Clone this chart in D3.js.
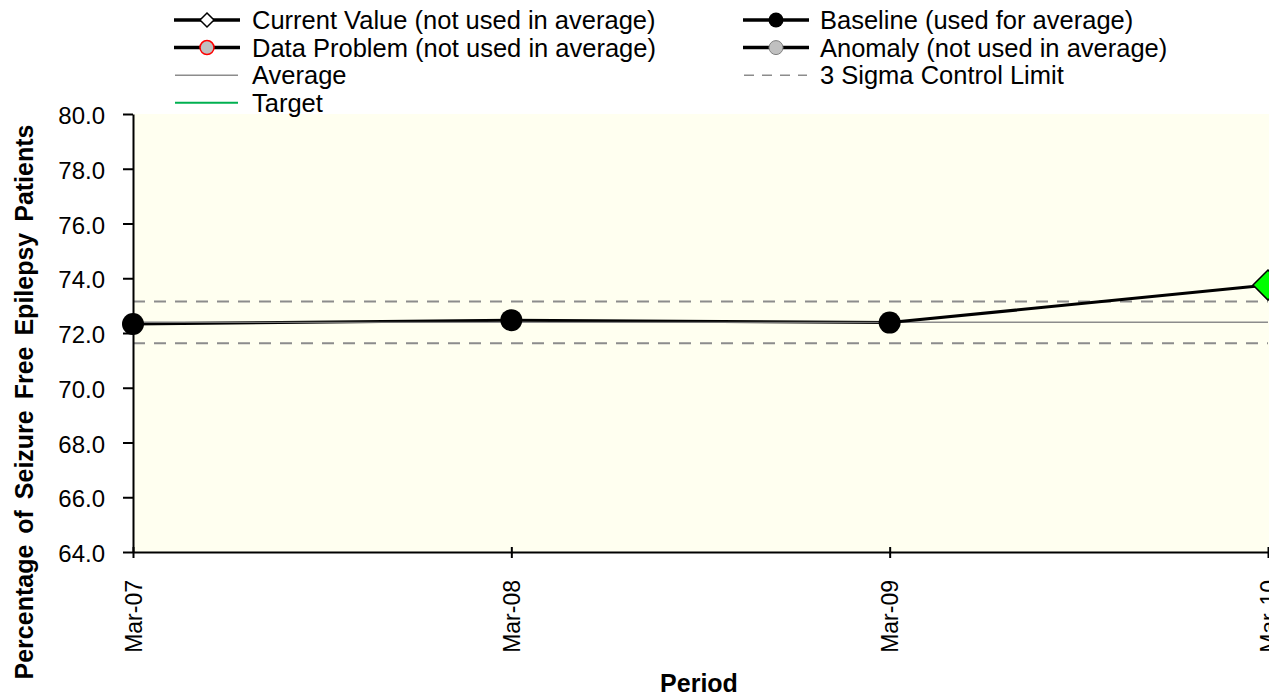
<!DOCTYPE html>
<html><head><meta charset="utf-8">
<script src="https://cdn.jsdelivr.net/npm/d3@7"></script>
<style>body{margin:0;background:#fff}svg{display:block;font-family:Arial,"Liberation Sans",sans-serif}</style>
</head><body><svg id="c" width="1269" height="696"></svg>
<script>
const periods = ["Mar-07","Mar-08","Mar-09","Mar-10"];
const values = [72.33, 72.47, 72.38, 73.75];
const status = ["baseline","baseline","baseline","current"];
const average = 72.39;
const upperLimit = 73.15;
const lowerLimit = 71.63;
const yTicks = [64,66,68,70,72,74,76,78,80];
const legendItems = [
  {label:"Current Value (not used in average)", kind:"current"},
  {label:"Baseline (used for average)", kind:"baseline"},
  {label:"Data Problem (not used in average)", kind:"problem"},
  {label:"Anomaly (not used in average)", kind:"anomaly"},
  {label:"Average", kind:"average"},
  {label:"3 Sigma Control Limit", kind:"sigma"},
  {label:"Target", kind:"target"}
];

const svg = d3.select("#c");
const L = 133, R = 1268, T = 114, B = 552;
const x = d3.scalePoint().domain(periods).range([L, R]);
const y = d3.scaleLinear().domain([64, 80]).range([B, T]);

svg.append("rect").attr("x", L).attr("y", T).attr("width", 1269 - L).attr("height", B - T).attr("fill", "#FFFFF0");

// limits & average
const g = svg.append("g");
g.append("line").attr("x1", L).attr("x2", R).attr("y1", y(average)).attr("y2", y(average))
  .attr("stroke", "#8c8c8c").attr("stroke-width", 1.5);
[upperLimit, lowerLimit].forEach(v => {
  g.append("line").attr("x1", L).attr("x2", R).attr("y1", y(v)).attr("y2", y(v))
    .attr("stroke", "#8c8c8c").attr("stroke-width", 2).attr("stroke-dasharray", "12,9");
});

// data line
const line = d3.line().x((d, i) => x(periods[i])).y(d => y(d));
g.append("path").datum(values).attr("d", line).attr("fill", "none").attr("stroke", "#000").attr("stroke-width", 3);
g.append("line").attr("x1", L).attr("x2", x(periods[2])).attr("y1", y(average)).attr("y2", y(average))
  .attr("stroke", "#8c8c8c").attr("stroke-width", 1);

// markers
values.forEach((v, i) => {
  const cx = x(periods[i]), cy = y(v);
  if (status[i] === "baseline") {
    g.append("circle").attr("cx", cx).attr("cy", cy).attr("r", 11).attr("fill", "#000");
  } else {
    const s = 15;
    g.append("path").attr("d", `M${cx},${cy - s}L${cx + s},${cy}L${cx},${cy + s}L${cx - s},${cy}Z`)
      .attr("fill", "#00FF00").attr("stroke", "#000").attr("stroke-width", 1.5);
  }
});

// axes
const yAxis = svg.append("g").attr("transform", `translate(${L},0)`)
  .call(d3.axisLeft(y).tickValues(yTicks).tickFormat(d3.format(".1f")).tickSize(10).tickSizeOuter(0));
yAxis.select(".domain").attr("stroke", "#000").attr("stroke-width", 2);
yAxis.selectAll(".tick line").attr("stroke", "#000").attr("stroke-width", 2);
yAxis.selectAll("text").attr("font-size", 24).attr("fill", "#000").attr("x", -28).attr("dy", "0.4em")
  .attr("font-family", "Arial, 'Liberation Sans', sans-serif");

const xAxis = svg.append("g").attr("transform", `translate(0,${B})`)
  .call(d3.axisBottom(x).tickSize(6).tickSizeOuter(0));
xAxis.select(".domain").attr("stroke", "#000").attr("stroke-width", 2);
xAxis.selectAll(".tick line").attr("stroke", "#000").attr("stroke-width", 2).attr("y1", -5).attr("y2", 6);
xAxis.selectAll("text").attr("font-size", 23).attr("fill", "#000")
  .attr("font-family", "Arial, 'Liberation Sans', sans-serif")
  .attr("transform", "rotate(-90)").attr("x", -28).attr("y", 0).attr("dy", "0.36em").attr("text-anchor", "end");

// titles
svg.append("text").attr("x", 699).attr("y", 692).attr("text-anchor", "middle")
  .attr("font-size", 25).attr("font-weight", "bold").text("Period");
svg.append("text").attr("transform", `translate(33,402) rotate(-90)`).attr("text-anchor", "middle")
  .attr("font-size", 25).attr("font-weight", "bold").attr("word-spacing", 4).text("Percentage of Seizure Free Epilepsy Patients");

// legend
const leg = svg.append("g");
legendItems.forEach((it, i) => {
  const col = i % 2, row = Math.floor(i / 2);
  const sx = col === 0 ? 174 : 743;
  const tx = col === 0 ? 252 : 820;
  const cy = 20 + row * 27.6;
  const gg = leg.append("g");
  const x1 = sx, x2 = sx + 66, mx = sx + 33;
  if (["current", "baseline", "problem", "anomaly"].includes(it.kind)) {
    gg.append("line").attr("x1", x1).attr("x2", x2).attr("y1", cy).attr("y2", cy).attr("stroke", "#000").attr("stroke-width", 3.5);
    if (it.kind === "current") {
      const s = 7;
      gg.append("path").attr("d", `M${mx},${cy - s}L${mx + s},${cy}L${mx},${cy + s}L${mx - s},${cy}Z`).attr("fill", "#fff").attr("stroke", "#000").attr("stroke-width", 1.5);
    } else if (it.kind === "baseline") {
      gg.append("circle").attr("cx", mx).attr("cy", cy).attr("r", 7.5).attr("fill", "#000");
    } else if (it.kind === "problem") {
      gg.append("circle").attr("cx", mx).attr("cy", cy).attr("r", 7).attr("fill", "#c0c0c0").attr("stroke", "#ff0000").attr("stroke-width", 1.5);
    } else {
      gg.append("circle").attr("cx", mx).attr("cy", cy).attr("r", 7).attr("fill", "#c0c0c0").attr("stroke", "#808080").attr("stroke-width", 1);
    }
  } else if (it.kind === "average") {
    gg.append("line").attr("x1", x1 + 1).attr("x2", x2 - 2).attr("y1", cy).attr("y2", cy).attr("stroke", "#8c8c8c").attr("stroke-width", 1.5);
  } else if (it.kind === "sigma") {
    gg.append("line").attr("x1", x1 + 1).attr("x2", x2 - 2).attr("y1", cy).attr("y2", cy).attr("stroke", "#8c8c8c").attr("stroke-width", 1.5).attr("stroke-dasharray", "10,8");
  } else {
    gg.append("line").attr("x1", x1 + 1).attr("x2", x2 - 2).attr("y1", cy).attr("y2", cy).attr("stroke", "#00B050").attr("stroke-width", 2);
  }
  gg.append("text").attr("x", tx).attr("y", cy).attr("dy", "0.36em").attr("font-size", 25.5).attr("fill", "#000").text(it.label);
});
</script></body></html>
